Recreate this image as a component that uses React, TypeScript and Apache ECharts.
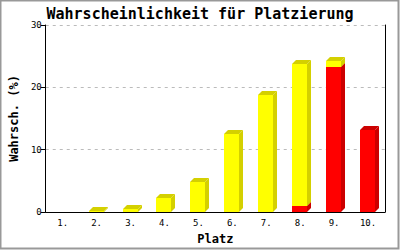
import React, { useEffect, useRef } from "react";
import * as echarts from "echarts";

const categories = ["1.", "2.", "3.", "4.", "5.", "6.", "7.", "8.", "9.", "10."];
const redValues = [0, 0, 0, 0, 0, 0, 0, 1.0, 23.2, 13.2];
const yellowValues = [0, 0.2, 0.5, 2.3, 4.8, 12.5, 18.7, 22.7, 1.1, 0];
const yTicks = [0, 10, 20, 30];

const MONO = "DejaVu Sans Mono";

function makeRender(front: string, side: string) {
  return (params: any, api: any) => {
    const i = api.value(0);
    const base = api.value(1);
    const top = api.value(2);
    if (top - base <= 0) return null;
    const pB = api.coord([i, base]);
    const pT = api.coord([i, top]);
    const x0 = Math.round(pB[0]) - 8;
    const w = 15;
    const d = 4;
    const yB = Math.round(pB[1]);
    const yT = Math.round(pT[1]);
    return {
      type: "group",
      children: [
        {
          type: "polygon",
          shape: {
            points: [
              [x0 + w, yB],
              [x0 + w + d, yB - d],
              [x0 + w + d, yT - d],
              [x0 + w, yT],
            ],
          },
          style: { fill: side },
        },
        {
          type: "polygon",
          shape: {
            points: [
              [x0, yT],
              [x0 + d, yT - d],
              [x0 + w + d, yT - d],
              [x0 + w, yT],
            ],
          },
          style: { fill: side },
        },
        {
          type: "rect",
          shape: { x: x0, y: yT, width: w, height: yB - yT },
          style: { fill: front },
        },
      ],
    };
  };
}

export default function App() {
  const ref = useRef<HTMLDivElement>(null);
  useEffect(() => {
    const chart = echarts.init(ref.current!, undefined, { renderer: "svg" });
    const redData = categories.map((_, i) => [i, 0, redValues[i]]);
    const yellowData = categories.map((_, i) => [
      i,
      redValues[i],
      redValues[i] + yellowValues[i],
    ]);
    chart.setOption({
      animation: false,
      backgroundColor: "#fff",
      title: {
        text: "Wahrscheinlichkeit für Platzierung",
        left: "center",
        top: 1,
        textStyle: { fontFamily: MONO, fontSize: 15, fontWeight: "bold", color: "#000" },
      },
      graphic: [
        {
          type: "rect",
          shape: { x: 0.5, y: 0.5, width: 398, height: 248 },
          style: { fill: "none", stroke: "#999", lineWidth: 2 },
          silent: true,
        },
      ],
      grid: { left: 43, right: 15, top: 25, bottom: 36 },
      xAxis: {
        type: "category",
        data: categories,
        name: "Platz",
        nameLocation: "middle",
        nameGap: 21,
        nameTextStyle: { fontFamily: MONO, fontSize: 12, fontWeight: "bold", color: "#000" },
        axisLine: { lineStyle: { color: "#000", width: 1 } },
        axisTick: { show: false },
        axisLabel: { fontFamily: MONO, fontSize: 9, color: "#000", margin: 6 },
      },
      yAxis: [
        {
          type: "value",
          min: yTicks[0],
          max: yTicks[yTicks.length - 1],
          interval: 10,
          name: "Wahrsch. (%)",
          nameLocation: "middle",
          nameGap: 25,
          nameTextStyle: { fontFamily: MONO, fontSize: 12, fontWeight: "bold", color: "#000" },
          axisLine: { show: true, lineStyle: { color: "#000", width: 1 } },
          axisTick: { show: true, length: 5, lineStyle: { color: "#000" } },
          axisLabel: { fontFamily: MONO, fontSize: 9, color: "#000", margin: 4 },
          splitLine: { show: true, lineStyle: { color: "#bbb", type: [3, 4], width: 1 } },
        },
        {
          type: "value",
          min: yTicks[0],
          max: yTicks[yTicks.length - 1],
          interval: 10,
          position: "right",
          axisLine: { show: true, lineStyle: { color: "#000", width: 1 } },
          axisTick: { show: false },
          axisLabel: { show: false },
          splitLine: { show: false },
        },
      ],
      series: [
        {
          type: "custom",
          name: "rot",
          renderItem: makeRender("#ff0000", "#cc0000"),
          encode: { x: 0, y: [1, 2] },
          data: redData,
          clip: false,
          z: 2,
        },
        {
          type: "custom",
          name: "gelb",
          renderItem: makeRender("#ffff00", "#d4d000"),
          encode: { x: 0, y: [1, 2] },
          data: yellowData,
          clip: false,
          z: 3,
        },
      ],
    });
    return () => chart.dispose();
  }, []);
  return (
    <div
      ref={ref}
      style={{ position: "absolute", left: 0, top: 0, width: 400, height: 250 }}
    />
  );
}
